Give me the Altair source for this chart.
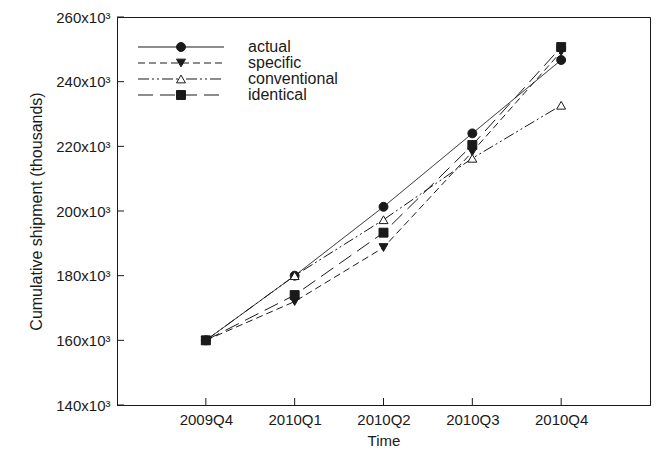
import altair as alt
import pandas as pd

quarters = ["2009Q4", "2010Q1", "2010Q2", "2010Q3", "2010Q4"]
series = ["actual", "specific", "conventional", "identical"]
actual = [160000, 180000, 201300, 224000, 246700]
specific = [160000, 172000, 188700, 218300, 249300]
conventional = [160000, 180000, 197300, 216300, 232700]
identical = [160000, 174000, 193300, 220400, 250700]
y_ticks = [140000, 160000, 180000, 200000, 220000, 240000, 260000]

values = {"actual": actual, "specific": specific,
          "conventional": conventional, "identical": identical}
rows = []
for s in series:
    for q, v in zip(quarters, values[s]):
        rows.append({"quarter": q, "value": v, "series": s})
df = pd.DataFrame(rows)
legend_df = pd.DataFrame({"series": series, "idx": list(range(len(series)))})
xt_df = pd.DataFrame({"quarter": quarters})
yt_df = pd.DataFrame({"value": y_ticks})

W, H = 533, 388
INK = "#1a1a1a"
FONT = "Liberation Sans"

dash_scale = alt.Scale(domain=series, range=[[1, 0], [7, 4], [11, 3, 2, 3, 2, 3], [15, 7]])
shape_scale = alt.Scale(domain=series, range=["circle", "triangle-down", "triangle-up", "square"])
fill_scale = alt.Scale(domain=series, range=[INK, INK, "white", INK])
size_scale = alt.Scale(domain=series, range=[80, 80, 80, 75])

x_enc = alt.X("quarter:N", sort=quarters, scale=alt.Scale(type="point", padding=1),
              title="Time",
              axis=alt.Axis(labelAngle=0, tickSize=0, labelPadding=7, titlePadding=6,
                            domainColor=INK, labelColor=INK, titleColor=INK,
                            labelFontSize=15, titleFontSize=15, titleFontWeight="normal",
                            labelFont=FONT, titleFont=FONT))
y_enc = alt.Y("value:Q", scale=alt.Scale(domain=[140000, 260000], nice=False, zero=False),
              title="Cumulative shipment (thousands)",
              axis=alt.Axis(values=y_ticks, tickSize=0, labelPadding=7, titlePadding=11,
                            labelExpr="format(datum.value/1000, 'd') + 'x10\u00b3'",
                            domainColor=INK, labelColor=INK, titleColor=INK,
                            labelFontSize=15, titleFontSize=16, titleFontWeight="normal",
                            labelFont=FONT, titleFont=FONT, grid=False))

lines = alt.Chart(df).mark_line(color=INK, strokeWidth=1).encode(
    x=x_enc, y=y_enc,
    strokeDash=alt.StrokeDash("series:N", scale=dash_scale, legend=None),
    detail="series:N",
)
points = alt.Chart(df).mark_point(filled=False, stroke=INK, strokeWidth=1, opacity=1).encode(
    x=x_enc, y=y_enc,
    shape=alt.Shape("series:N", scale=shape_scale, legend=None),
    fill=alt.Fill("series:N", scale=fill_scale, legend=None),
    size=alt.Size("series:N", scale=size_scale, legend=None),
)
xticks = alt.Chart(xt_df).mark_rule(color=INK, strokeWidth=1).encode(
    x=x_enc, y=alt.value(H), y2=alt.value(H - 7),
)
yticks = alt.Chart(yt_df).mark_rule(color=INK, strokeWidth=1).encode(
    y=y_enc, x=alt.value(0), x2=alt.value(7),
)
main = alt.layer(lines, xticks, yticks, points)

leg_y = alt.Y("idx:Q", scale=alt.Scale(domain=[0, 3], range=[30, 78], nice=False, zero=False),
              axis=None)
leg_lines = alt.Chart(legend_df).mark_rule(color=INK, strokeWidth=1).encode(
    y=leg_y, x=alt.value(21), x2=alt.value(107),
    strokeDash=alt.StrokeDash("series:N", scale=dash_scale, legend=None),
)
leg_points = alt.Chart(legend_df).mark_point(filled=False, stroke=INK, strokeWidth=1, opacity=1).encode(
    y=leg_y, x=alt.value(64),
    shape=alt.Shape("series:N", scale=shape_scale, legend=None),
    fill=alt.Fill("series:N", scale=fill_scale, legend=None),
    size=alt.Size("series:N", scale=size_scale, legend=None),
)
leg_text = alt.Chart(legend_df).mark_text(align="left", baseline="middle", font=FONT,
                                          fontSize=16, color=INK).encode(
    y=leg_y, x=alt.value(131), text="series:N",
)
legend = alt.layer(leg_lines, leg_points, leg_text)

chart = alt.layer(main, legend).resolve_scale(y="independent").properties(
    width=W, height=H,
    autosize=alt.AutoSizeParams(type="none"),
    padding={"left": 109, "top": 9, "right": 1, "bottom": 42},
    background="white",
).configure_view(stroke=INK, strokeWidth=1)

chart.save("out.html", embed_options={"renderer": "svg", "actions": False})
